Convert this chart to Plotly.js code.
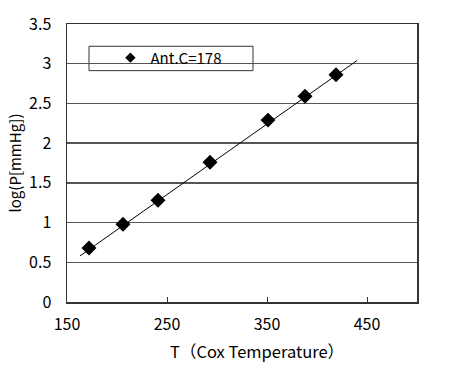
<!DOCTYPE html>
<html>
<head>
<meta charset="utf-8">
<script src="https://cdn.plot.ly/plotly-3.0.1.min.js"></script>
<style>html,body{margin:0;padding:0;background:#fff;}#chart{width:474px;height:366px;}</style>
</head>
<body>
<div id="chart"></div>
<script>
// Data
const seriesName = "Ant.C=178";
const tempT = [172, 206, 241, 293, 351, 388, 419];
const logP = [0.68, 0.98, 1.28, 1.76, 2.29, 2.59, 2.86];
const trendT = [163, 440];
const trendLogP = [0.58, 3.04];
const xTickVals = [150, 250, 350, 450];
const yTickVals = [0, 0.5, 1, 1.5, 2, 2.5, 3, 3.5];
const xTitle = "T（Cox Temperature）";
const yTitle = "log(P[mmHg])";

const font = "Noto Sans CJK JP, Noto Sans, sans-serif";

const traces = [
  {x: trendT, y: trendLogP, mode: "lines", line: {color: "#000", width: 1}, showlegend: false, hoverinfo: "skip"},
  {x: tempT, y: logP, mode: "markers", marker: {symbol: "diamond", size: 11.5, color: "#000"}, showlegend: false},
  {x: [null], y: [null], mode: "markers", name: seriesName, marker: {symbol: "diamond", size: 8, color: "#000"}, showlegend: true}
];

const layout = {
  width: 474, height: 366,
  margin: {l: 67, r: 57, t: 24, b: 64},
  paper_bgcolor: "#fff", plot_bgcolor: "#fff",
  font: {family: font, color: "#000", size: 16},
  showlegend: true,
  legend: {x: 0.124, y: 0.878, xanchor: "left", yanchor: "middle", bgcolor: "rgba(0,0,0,0)", borderwidth: 0,
           font: {family: font, size: 15, color: "#000"}, itemwidth: 30},
  xaxis: {
    range: [150, 500], tickvals: xTickVals, ticktext: xTickVals.map(String),
    showgrid: false, zeroline: false, showline: true, linecolor: "#333", linewidth: 1.5, mirror: true,
    ticks: "inside", ticklen: 5, tickcolor: "#333", tickwidth: 1,
    ticklabelstandoff: 7,
    tickfont: {size: 16}
  },
  yaxis: {
    range: [0, 3.5], tickvals: yTickVals, ticktext: yTickVals.map(String),
    showgrid: true, gridcolor: "#555", gridwidth: 1.5, zeroline: false,
    showline: true, linecolor: "#333", linewidth: 1.5, mirror: true,
    ticks: "", ticklabelstandoff: 11,
    tickfont: {size: 16},
    title: {text: yTitle, font: {size: 15}, standoff: 4}
  },
  annotations: [
    {text: xTitle, xref: "paper", yref: "paper", x: (257-67)/350, y: (302.3-351)/278.3,
     xanchor: "center", yanchor: "middle", showarrow: false, font: {size: 16.5}}
  ],
  shapes: [
    {type: "rect", xref: "paper", yref: "paper", x0: (89-67)/350, x1: (253-67)/350,
     y0: (302.3-70.7)/278.3, y1: (302.3-46.3)/278.3, fillcolor: "#fff", line: {color: "#333", width: 1}, layer: "between"}
  ]
};

Plotly.newPlot("chart", traces, layout, {staticPlot: true, displayModeBar: false});
</script>
</body>
</html>
